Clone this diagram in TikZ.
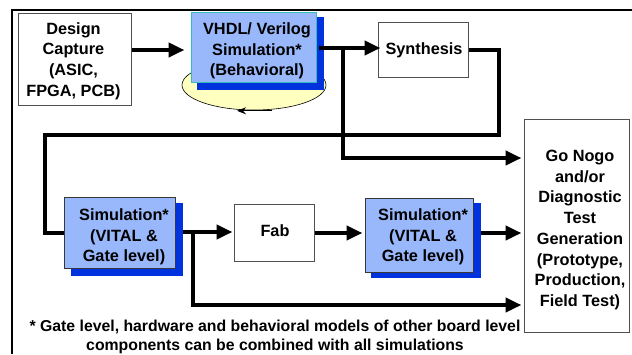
\documentclass[tikz,border=0pt]{standalone}
\usepackage{fontspec}
\setmainfont{Liberation Sans}
\usetikzlibrary{arrows.meta,shapes.geometric}
\definecolor{boxgray}{RGB}{80,80,80}
\definecolor{simblue}{RGB}{153,184,252}
\definecolor{shadowblue}{RGB}{0,51,221}
\definecolor{tealedge}{RGB}{51,190,190}
\definecolor{loopyellow}{RGB}{255,255,192}
\begin{document}
\begin{tikzpicture}[x=1pt,y=-1pt,
  plainbox/.style={draw=boxgray, line width=1pt, fill=white, inner sep=0pt},
  simbox/.style={draw=boxgray!70!black, line width=1pt, fill=simblue, inner sep=0pt},
  shadowbox/.style={fill=shadowblue, draw=none},
  txt/.style={font=\bfseries\fontsize{16.3}{20.7}\selectfont, align=center, inner sep=0pt},
  flow/.style={line width=4pt},
  arr/.style={flow, -{Triangle[length=16pt,width=14pt]}},
  thinarr/.style={line width=1.3pt, -{Stealth[length=9pt,width=7pt]}}
]
\useasboundingbox (0,0) rectangle (632,354);
% frame
\draw[line width=2pt] (12,354) -- (12,10) -- (632,10);

% loop ellipse behind VHDL box
\node[ellipse, draw=black, line width=0.6pt, fill=loopyellow, minimum width=144pt, minimum height=50pt] (loop) at (254,85) {};
\draw[thinarr] ([xshift=18pt,yshift=-0.5pt]loop.south) -- ([xshift=-17pt,yshift=-0.5pt]loop.south);

% Design capture
\node[plainbox, minimum width=113pt, minimum height=92pt] (dc) at (74.5,59) {};
\node[txt] (dct) at (73.5,61) {Design\\Capture\\(ASIC,\\FPGA, PCB)};

% VHDL box with shadow
\fill[shadowblue] (197,17) rectangle (324,90);
\node[draw=tealedge, line width=1pt, fill=simblue, inner sep=0pt, minimum width=125pt, minimum height=70pt] (vhdl) at (253.5,47) {};
\node[txt] (vhdlt) at (257,51) {VHDL/ Verilog\\Simulation*\\(Behavioral)};

% Synthesis
\node[plainbox, minimum width=90pt, minimum height=55pt] (syn) at (423,49.5) {};
\node[txt] (synt) at (424,50) {Synthesis};

% Go Nogo
\node[plainbox, minimum width=105pt, minimum height=213pt] (gng) at (576.5,225.5) {};
\node[txt] (gngt) at (580,230) {Go Nogo\\and/or\\Diagnostic\\Test\\Generation\\(Prototype,\\Production,\\Field Test)};

% Simulation 1
\fill[shadowblue] (71,203) rectangle (183,276);
\node[simbox, minimum width=111pt, minimum height=71pt] (sim1) at (119.5,232.5) {};
\node[txt] (sim1t) at (124,237) {Simulation*\\(VITAL \&\\Gate level)};

% Fab
\node[plainbox, minimum width=80pt, minimum height=57pt] (fab) at (274,232.5) {};
\node[txt] (fabt) at (275,231) {Fab};

% Simulation 2
\fill[shadowblue] (371,203) rectangle (481,278);
\node[simbox, minimum width=108pt, minimum height=74pt] (sim2) at (419,235) {};
\node[txt] (sim2t) at (423,237) {Simulation*\\(VITAL \&\\Gate level)};

% junction coordinates
\coordinate (jA) at (343,48);
\coordinate (jB) at (193,232);

% connectors
\draw[arr, shorten >=6pt] ([yshift=9pt]dc.east) -- ([yshift=9pt]dc.east -| vhdl.west);
\draw[flow] ([xshift=2pt,yshift=-1pt]vhdl.east) -- (jA);
\draw[arr, shorten >=-3pt] (jA) -- (jA -| syn.west);
\draw[flow] (syn.east |- 0,50) -- (499,50) -- (499,135) -- (45,135) -- (45,233) -- (sim1.west |- 0,233);
\draw[arr, shorten >=2pt] (jA) -- (343,158) -- (343,158 -| gng.west);
\draw[arr, shorten >=1pt] (183,232) -- (183,232 -| fab.west);
\draw[arr, shorten >=2pt] (fab.east |- 0,233) -- (fab.east |- 0,233 -| sim2.west);
\draw[arr, shorten >=2pt] (481,233) -- (481,233 -| gng.west);
\draw[arr, shorten >=2pt] (jB) -- (193,305) -- (193,305 -| gng.west);

% footnote
\node[font=\bfseries\fontsize{15.8}{19}\selectfont, align=center, inner sep=0pt] (note) at (275,336.5)
  {* Gate level, hardware and behavioral models of other board level\\components can be combined with all simulations};
\end{tikzpicture}
\end{document}
